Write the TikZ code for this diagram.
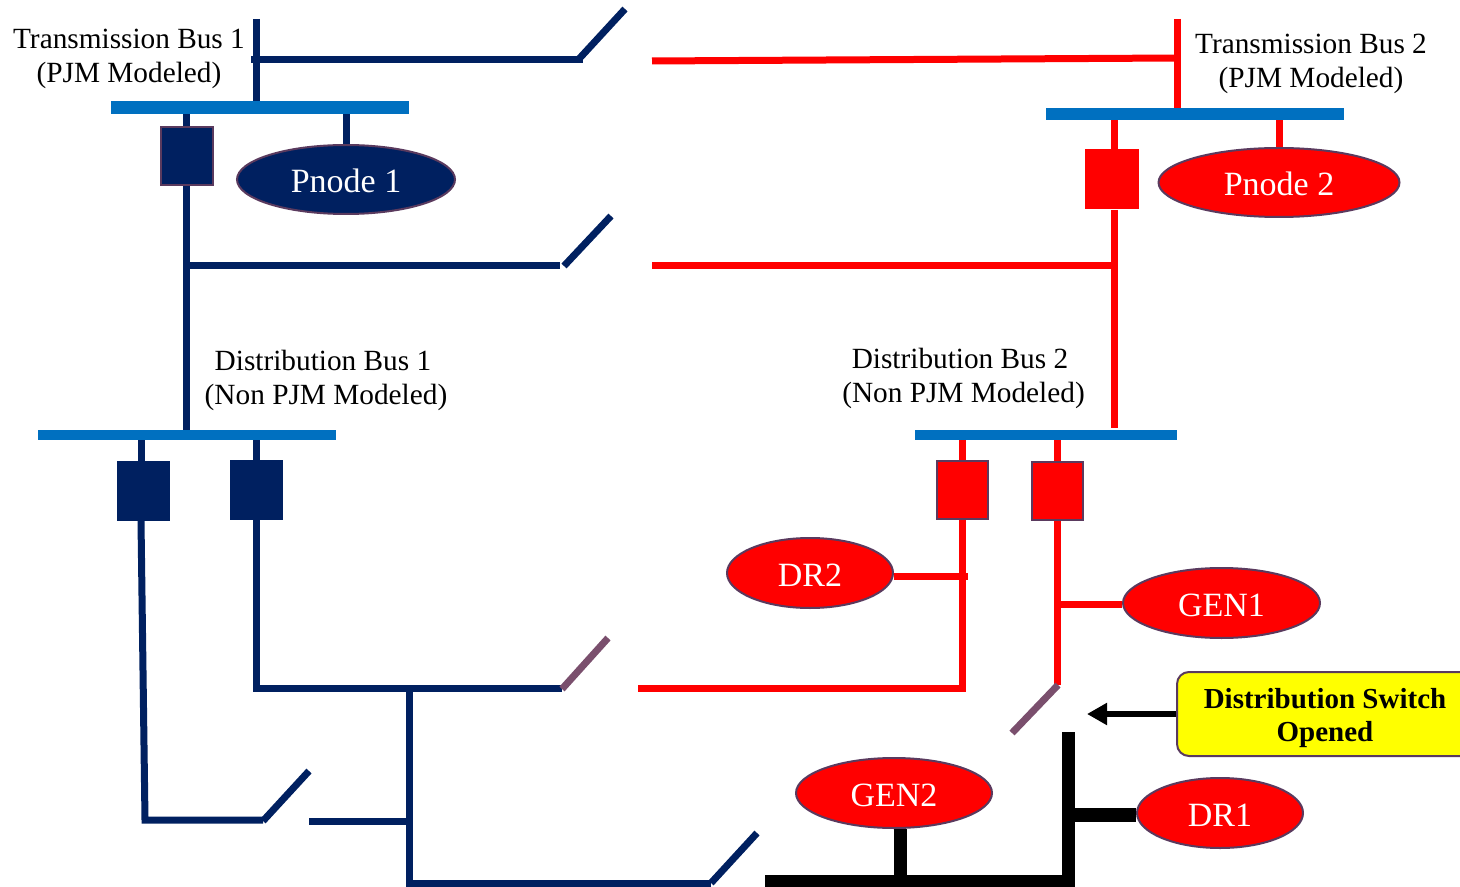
\documentclass[tikz,border=0pt]{standalone}
\usepackage{fontspec}
\setmainfont{Liberation Serif}
\usetikzlibrary{shapes.geometric,arrows.meta}
\definecolor{navy}{HTML}{002060}
\definecolor{busblue}{HTML}{0070C0}
\definecolor{edgeplum}{HTML}{5A3A5E}
\definecolor{bladeplum}{HTML}{7A4F6D}
\definecolor{pureyellow}{RGB}{255,255,0}
\definecolor{purered}{RGB}{255,0,0}
\tikzset{
  x=0.5pt,y=-0.5pt,
  busbar/.style={rectangle,fill=busblue,draw=none,inner sep=0pt},
  breaker/.style={rectangle,inner sep=0pt,minimum width=26.5pt,minimum height=30pt},
  lbl/.style={align=center,inner sep=0pt,font=\fontsize{14.65}{17}\selectfont},
  oval/.style={ellipse,inner sep=0pt,text=white,draw=edgeplum,line width=1pt,text height=13pt,text depth=0pt,font=\fontsize{17}{19}\selectfont},
  navyline/.style={draw=navy,line width=3.5pt},
  redline/.style={draw=purered,line width=3.5pt},
  bladeline/.style={draw=bladeplum,line width=3.5pt},
  blackline/.style={draw=black,line width=6.5pt},
}
\begin{document}
\begin{tikzpicture}
\useasboundingbox (0,0) rectangle (1460,887);
% bus bars
\node[busbar,minimum width=149pt,minimum height=6.5pt] (t1) at (260,107.5) {};
\node[busbar,minimum width=149pt,minimum height=6pt] (t2) at (1195,114) {};
\node[busbar,minimum width=149pt,minimum height=5pt] (d1) at (187,435) {};
\node[busbar,minimum width=131pt,minimum height=5pt] (d2) at (1046,435) {};
% breakers
\node[breaker,fill=navy,draw=edgeplum,line width=1pt,minimum width=26pt,minimum height=29pt] (b1) at (186.5,156) {};
\node[breaker,fill=purered,minimum width=27pt] (b2) at (1112,179.5) {};
\node[breaker,fill=navy] (b3) at (143.5,491) {};
\node[breaker,fill=navy] (b4) at (256.5,490) {};
\node[breaker,fill=purered,draw=edgeplum,line width=1pt,minimum width=25.5pt,minimum height=29pt] (b5) at (962.5,489.5) {};
\node[breaker,fill=purered,draw=edgeplum,line width=1pt,minimum width=25.5pt,minimum height=29pt] (b6) at (1057,491) {};
% ovals
\node[oval,fill=navy,minimum width=109pt,minimum height=34.5pt] (p1) at (346,179.5) {Pnode 1};
\node[oval,fill=purered,minimum width=120.5pt,minimum height=34.5pt] (p2) at (1279,182.5) {Pnode 2};
\node[oval,fill=purered,minimum width=83pt,minimum height=35pt] (dr2) at (810,573) {DR2};
\node[oval,fill=purered,minimum width=98.5pt,minimum height=35pt] (gen1) at (1221.5,603) {GEN1};
\node[oval,fill=purered,minimum width=98pt,minimum height=35pt] (gen2) at (894,793) {GEN2};
\node[oval,fill=purered,minimum width=83pt,minimum height=35pt] (dr1) at (1220,813) {DR1};
% callout
\node[rectangle,rounded corners=6pt,fill=pureyellow,draw=edgeplum,line width=1pt,minimum width=150pt,minimum height=42pt,inner sep=0pt] (call) at (1327,714) {};
\node[lbl,font=\fontsize{14.5}{16.5}\selectfont\bfseries] (calltext) at (1325,718) {Distribution Switch\\Opened};
% labels
\node[lbl] (lt1) at (129,59) {Transmission Bus 1\\(PJM Modeled)};
\node[lbl] (lt2) at (1311,64) {Transmission Bus 2\\(PJM Modeled)};
\node[lbl] (ld1) at (326,380) {Distribution Bus 1\hbox to 3pt{}\\(Non PJM Modeled)};
\node[lbl] (ld2) at (963.5,378) {Distribution Bus 2\hbox to 3.5pt{}\\(Non PJM Modeled)};
% junctions and free ends
\coordinate (n1top) at (256.5,19);
\coordinate (n1a) at (251,59.5);
\coordinate (n1b) at (583,59.5);
\coordinate (s1a) at (578,60);
\coordinate (s1b) at (625,9);
\coordinate (n2a) at (186.5,266);
\coordinate (n2b) at (560,266);
\coordinate (s2a) at (564,266);
\coordinate (s2b) at (611,216);
\coordinate (n3) at (145,820);
\coordinate (n3b) at (263,820);
\coordinate (s3a) at (263,821);
\coordinate (s3b) at (309,771);
\coordinate (n4) at (309,821);
\coordinate (n5) at (409,821);
\coordinate (n6) at (256.5,688);
\coordinate (n7) at (409,688);
\coordinate (n8) at (562,688);
\coordinate (s4a) at (562,689);
\coordinate (s4b) at (608,638);
\coordinate (n9) at (409,883);
\coordinate (n10) at (711,883);
\coordinate (s5a) at (711,883);
\coordinate (s5b) at (757,833);
\coordinate (r1) at (652,61);
\coordinate (r2) at (1177,58);
\coordinate (r3) at (1177,19);
\coordinate (r4) at (652,266);
\coordinate (r5) at (1114.5,266);
\coordinate (r5end) at (1114.5,428);
\coordinate (r6) at (638,688);
\coordinate (r7) at (962.5,688);
\coordinate (r8) at (968,576);
\coordinate (r9) at (1057,604);
\coordinate (r10) at (1057,685);
\coordinate (s6a) at (1058,685);
\coordinate (s6b) at (1012,733);
\coordinate (k1) at (1068,732);
\coordinate (k2) at (1068,881);
\coordinate (k3) at (765,881);
\coordinate (k4) at (1068,815);
\coordinate (k5) at (900,881);
\coordinate (k6) at (1087,714);
\coordinate (j1) at (141,440);
\coordinate (j2) at (141,461);
\coordinate (j3) at (141,521);
% navy network
\draw[navyline] (n1top) -- (n1top |- t1.north);
\draw[navyline] (n1a) -- (n1b);
\draw[navyline] (s1a) -- (s1b);
\draw[navyline] (b1.north |- t1.south) -- (b1.north);
\draw[navyline] (p1.north |- t1.south) -- (p1.north);
\draw[navyline] (b1.south) -- (b1.south |- d1.north);
\draw[navyline] (n2a) -- (n2b);
\draw[navyline] (s2a) -- (s2b);
\draw[navyline] (j1) -- (j2);
\draw[navyline] (j3) -- (n3) -- (n3b);
\draw[navyline] (s3a) -- (s3b);
\draw[navyline] (n4) -- (n5);
\draw[navyline] (b4.north |- d1.south) -- (b4.north);
\draw[navyline] (b4.south) -- (n6) -- (n8);
\draw[navyline] (n7) -- (n9) -- (n10);
\draw[navyline] (s5a) -- (s5b);
\draw[bladeline] (s4a) -- (s4b);
% red network
\draw[redline] (r1) -- (r2);
\draw[redline] (r3) -- (r3 |- t2.north);
\draw[redline] (t2.south -| r5) -- (b2.north -| r5);
\draw[redline] (p2.north |- t2.south) -- (p2.north);
\draw[redline] (b2.south -| r5) -- (r5end);
\draw[redline] (r4) -- (r5);
\draw[redline] (b5.north |- d2.south) -- (b5.north);
\draw[redline] (b5.south) -- (r7) -- (r6);
\draw[redline] (dr2.east |- r8) -- (r8);
\draw[redline] (b6.north |- d2.south) -- (b6.north);
\draw[redline] (b6.south) -- (r10);
\draw[redline] (r9) -- (gen1.west |- r9);
\draw[bladeline] (s6a) -- (s6b);
% black network
\draw[blackline] (k1) -- (k2) -- (k3);
\draw[blackline,line width=7pt] (k4) -- (dr1.west |- k4);
\draw[blackline] (k5) -- (gen2.south -| k5);
% callout arrow
\draw[line width=3pt,-{Triangle[length=10pt,width=10.5pt]}] (call.west) -- (k6);
\end{tikzpicture}
\end{document}
